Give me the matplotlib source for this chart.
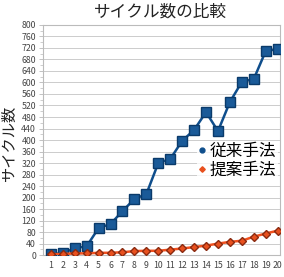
import matplotlib
matplotlib.use("Agg")
import matplotlib.pyplot as plt
from matplotlib.ticker import MultipleLocator
from matplotlib.lines import Line2D

plt.rcParams['font.family'] = ['Noto Sans CJK JP', 'DejaVu Sans']

x = list(range(1, 21))
conventional = [3, 7, 24, 31, 94, 108, 153, 195, 212, 320,
                334, 397, 435, 497, 431, 532, 602, 612, 709, 716]
proposed = [3, 4, 6, 6, 8, 8, 10, 14, 15, 15,
            19, 23, 28, 33, 40, 46, 50, 64, 75, 85]
labels = ['従来手法', '提案手法']
title = 'サイクル数の比較'
ylabel = 'サイクル数'

fig = plt.figure(figsize=(2.84, 2.77), dpi=100)
ax = fig.add_axes([0.151, 0.079, 0.835, 0.831])

ax.plot(x, conventional, color='#0f4e8c', lw=1.8, marker='s', ms=6.5,
        mec='#0a3a6a', mfc='#1a5a98', zorder=3)
ax.plot(x, proposed, color='#f0501e', lw=1.8, marker='D', ms=4,
        mec='#8a2a10', mfc='#e8501e', zorder=3)

ax.set_xlim(0.33, 20.2)
ax.set_ylim(0, 800)
ax.set_xticks(x)
ax.yaxis.set_major_locator(MultipleLocator(40))
ax.yaxis.set_minor_locator(MultipleLocator(20))
ax.tick_params(axis='both', labelsize=6.3, colors='#444444', length=3, width=0.5)
ax.tick_params(axis='x', length=0, pad=4)
ax.tick_params(axis='y', which='minor', length=2, width=0.4, colors='#aaaaaa')
ax.tick_params(axis='y', which='major', colors='#aaaaaa', labelcolor='#444444', pad=2)
ax.grid(axis='y', color='#cccccc', lw=0.7)
ax.set_axisbelow(True)
for s in ax.spines.values():
    s.set_color('#bbbbbb')
    s.set_linewidth(0.8)

fig.text(0.565, 0.955, title, ha='center', va='center', fontsize=12, color='#222222')
fig.text(0.034, 0.48, ylabel, rotation=90, ha='center', va='center', fontsize=11, color='#222222')

handles = [Line2D([], [], ls='none', marker='o', ms=3.5, color='#0f4e8c'),
           Line2D([], [], ls='none', marker='D', ms=2.8, color='#e8501e')]
leg = fig.legend(handles, labels, loc='upper left', bbox_to_anchor=(0.665, 0.52),
                 frameon=True, fontsize=12, handlelength=0.4, handletextpad=0.25,
                 labelspacing=0.1, borderpad=0.1, facecolor='white', edgecolor='none')

fig.savefig('out.png', dpi=100)
